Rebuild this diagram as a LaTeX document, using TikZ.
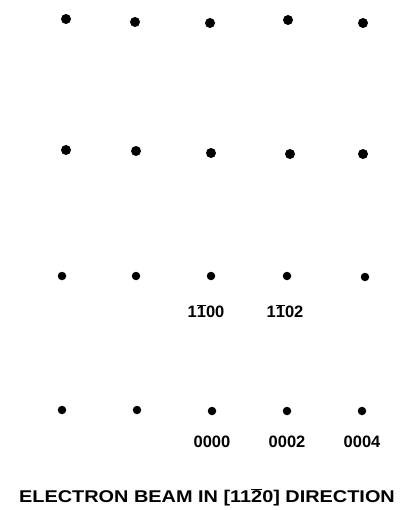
\documentclass[tikz,border=0pt]{standalone}
\usepackage{fontspec}
\setmainfont{Liberation Sans}
\newcommand{\obar}[1]{\ensuremath{\overline{\hbox{#1}}}}
\begin{document}
\begin{tikzpicture}[x=1pt,y=-1pt,
  spot/.style={circle,fill=black,inner sep=0pt,minimum size=10pt},
  smallspot/.style={circle,fill=black,inner sep=0pt,minimum size=8.5pt},
  idx/.style={font=\fontsize{16.5}{17}\selectfont\bfseries,inner sep=0pt},
  caption/.style={font=\fontsize{17}{18}\selectfont\bfseries,inner sep=0pt}]
\useasboundingbox (0,0) rectangle (413,510);
% row 1
\node[spot] (a1) at (66,19) {};
\node[spot] (a2) at (135,22) {};
\node[spot] (a3) at (210,23) {};
\node[spot] (a4) at (288,20) {};
\node[spot] (a5) at (363,23) {};
% row 2
\node[spot] (b1) at (66,150) {};
\node[spot] (b2) at (136,151) {};
\node[spot] (b3) at (211,153) {};
\node[spot] (b4) at (290,154) {};
\node[spot] (b5) at (363,154) {};
% row 3
\node[smallspot] (c1) at (62,276) {};
\node[smallspot] (c2) at (136,276) {};
\node[smallspot] (c3) at (211,276) {};
\node[smallspot] (c4) at (287,276) {};
\node[smallspot] (c5) at (365,277) {};
% row 4
\node[smallspot] (d1) at (62,410) {};
\node[smallspot] (d2) at (137,410) {};
\node[smallspot] (d3) at (212,411) {};
\node[smallspot] (d4) at (287,411) {};
\node[smallspot] (d5) at (362,411) {};
% labels
\node[idx] (l1) at (206,311) {1\obar{1}00};
\node[idx] (l2) at (285,311) {1\obar{1}02};
\node[idx] (l3) at (212,442) {0000};
\node[idx] (l4) at (287,442) {0002};
\node[idx] (l5) at (362,442) {0004};
% caption
\node[caption] (cap) at (207,497) {\scalebox{1.17}[1]{ELECTRON BEAM IN [11\obar{2}0] DIRECTION}};
\end{tikzpicture}
\end{document}
